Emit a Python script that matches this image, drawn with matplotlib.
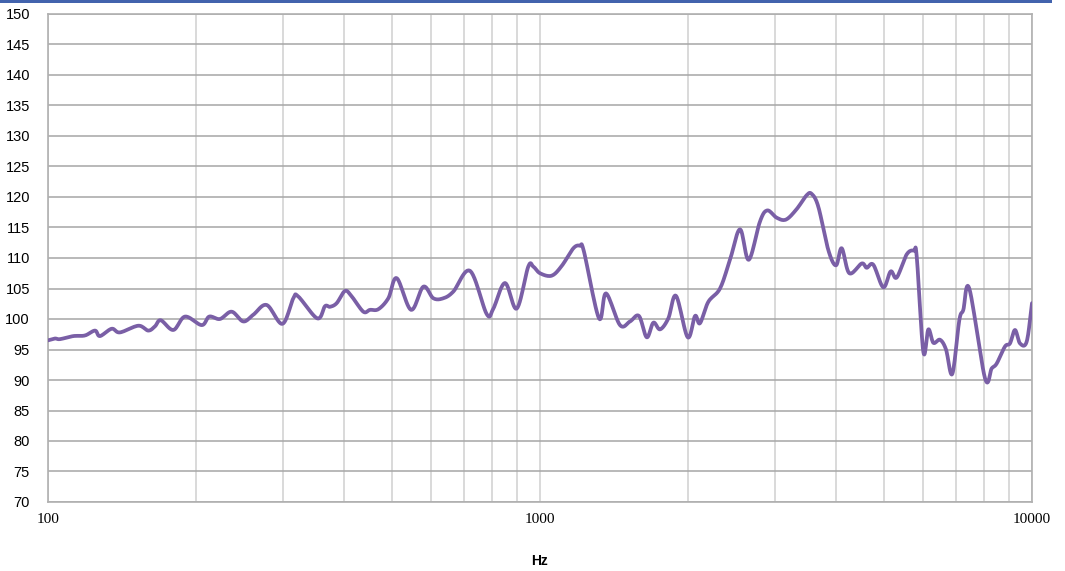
import numpy as np
import matplotlib as mpl
mpl.use('Agg')
import matplotlib.pyplot as plt
from matplotlib.ticker import FixedLocator, NullFormatter

# frequency response (Hz, level)
freq = [100, 103.3, 105.8, 112.6, 118.9, 124.6, 127.5, 134.7, 140.0, 152.6,
        159.9, 165.0, 169.5, 179.8, 189.9, 205.3, 212.7, 223.6, 236.2, 249.4,
        261.4, 278.3, 299.5, 315.2, 322.6, 352.7, 365.6, 374.3, 386.2, 401.5,
        414.3, 437.4, 451.3, 469.2, 491.7, 511.4, 546.9, 579.2, 607.0, 636.1,
        666.6, 720.8, 779.3, 803.8, 848.9, 896.7, 946.6, 969.1, 1000, 1056,
        1107, 1169, 1206, 1228, 1318, 1362, 1454, 1524, 1589, 1648,
        1700, 1754, 1823, 1890, 1996, 2066, 2114, 2198, 2322, 2433,
        2550, 2656, 2800, 2897, 3028, 3162, 3323, 3484, 3567, 3679,
        3855, 3996, 4104, 4253, 4507, 4613, 4758, 4986, 5161, 5309,
        5564, 5757, 5831, 6014, 6156, 6302, 6502, 6687, 6887, 7116,
        7251, 7457, 8025, 8281, 8477, 8812, 9021, 9235, 9454, 9755, 10000]
level = [96.5, 96.8, 96.7, 97.2, 97.3, 98.1, 97.2, 98.4, 97.8, 98.9,
         98.1, 98.8, 99.8, 98.2, 100.4, 99.0, 100.4, 100.0, 101.2, 99.6,
         100.7, 102.3, 99.2, 103.4, 103.7, 100.1, 102.1, 102.0, 102.6, 104.6,
         103.7, 101.2, 101.5, 101.6, 103.4, 106.7, 101.5, 105.3, 103.4, 103.4,
         104.5, 107.9, 100.8, 101.7, 105.9, 101.7, 108.6, 108.6, 107.5, 107.1,
         108.7, 111.6, 112.0, 111.1, 100.1, 104.2, 99.0, 99.6, 100.5, 97.0,
         99.4, 98.3, 100.1, 103.8, 97.0, 100.5, 99.3, 102.8, 105.0, 109.7,
         114.7, 109.7, 116.0, 117.8, 116.6, 116.3, 118.0, 120.3, 120.5, 118.4,
         111.3, 108.8, 111.6, 107.5, 109.1, 108.4, 108.9, 105.2, 107.8, 106.8,
         110.6, 111.2, 110.2, 94.6, 98.3, 96.1, 96.6, 95.0, 91.0, 99.8,
         101.5, 105.0, 90.3, 91.9, 92.7, 95.5, 96.0, 98.2, 96.0, 96.3, 102.6]

y_ticks = list(range(70, 151, 5))
x_major = [100, 1000, 10000]
x_minor = [200, 300, 400, 500, 600, 700, 800, 900,
           2000, 3000, 4000, 5000, 6000, 7000, 8000, 9000]


def smooth(x, y, n=12):
    # Catmull-Rom curve through the points, like a spreadsheet "smoothed line"
    lx = np.log10(x)
    y = np.asarray(y, float)
    px = np.concatenate([[2 * lx[0] - lx[1]], lx, [2 * lx[-1] - lx[-2]]])
    py = np.concatenate([[2 * y[0] - y[1]], y, [2 * y[-1] - y[-2]]])
    t = np.linspace(0, 1, n, endpoint=False)
    ox, oy = [], []
    for i in range(1, len(px) - 2):
        for p, o in ((px, ox), (py, oy)):
            p0, p1, p2, p3 = p[i - 1], p[i], p[i + 1], p[i + 2]
            o.extend(0.5 * (2 * p1 + (-p0 + p2) * t
                            + (2 * p0 - 5 * p1 + 4 * p2 - p3) * t ** 2
                            + (-p0 + 3 * p1 - 3 * p2 + p3) * t ** 3))
    ox.append(lx[-1])
    oy.append(y[-1])
    return 10 ** np.array(ox), np.array(oy)


fig = plt.figure(figsize=(10.65, 5.71), dpi=100)
ax = fig.add_axes([48 / 1065, 69 / 571, 984 / 1065, 488 / 571])

# blue band along the top edge
fig.add_artist(plt.Rectangle((0, 1 - 3 / 571), 1052 / 1065, 3 / 571,
                             transform=fig.transFigure, color='#4263ad', lw=0))

sx, sy = smooth(freq, level)
ax.plot(sx, sy, color='#7a5fa6', lw=2.7, solid_capstyle='round', zorder=3)

ax.set_xscale('log')
ax.set_xlim(100, 10000)
ax.set_ylim(70, 150)
ax.xaxis.set_major_locator(FixedLocator(x_major))
ax.xaxis.set_minor_locator(FixedLocator(x_minor))
ax.xaxis.set_minor_formatter(NullFormatter())
ax.set_xticklabels([str(v) for v in x_major])
ax.set_yticks(y_ticks)

ax.grid(axis='y', which='major', color='#a6a6a6', lw=1.1)
ax.grid(axis='x', which='both', color='#d0d0d0', lw=1.1)
ax.tick_params(which='both', length=0)
ax.tick_params(axis='y', pad=13, labelsize=10.5)
ax.tick_params(axis='x', pad=8, labelsize=11)
for lab in ax.get_yticklabels():
    lab.set_family('Liberation Sans')
for lab in ax.get_xticklabels():
    lab.set_family('Liberation Serif')
for s in ax.spines.values():
    s.set_color('#b0b0b0')
    s.set_linewidth(1.2)
ax.set_axisbelow(True)

ax.set_xlabel('Hz', fontsize=10, fontweight='bold', family='Liberation Sans', labelpad=20)

plt.savefig('out.png', dpi=100)
